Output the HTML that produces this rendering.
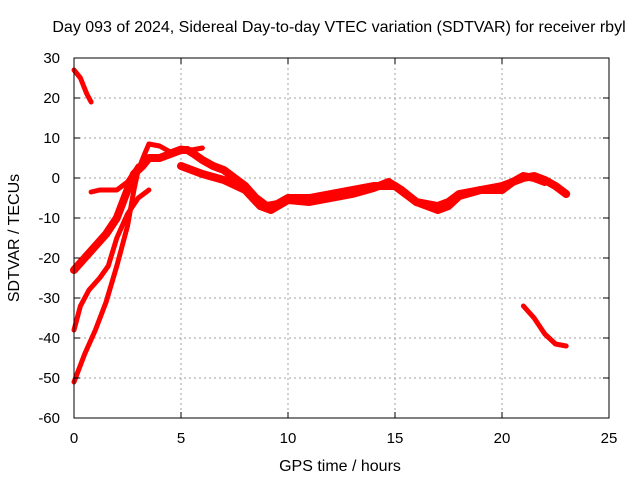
<!DOCTYPE html>
<html><head><meta charset="utf-8"><style>
body{margin:0;background:#fff;}
svg{display:block;font-family:"Liberation Sans",sans-serif;}
</style></head><body>
<svg id="chart" width="640" height="480" viewBox="0 0 640 480">
<text x="339" y="32" font-size="16" text-anchor="middle">Day 093 of 2024, Sidereal Day-to-day VTEC variation (SDTVAR) for receiver rbyl</text>
<text x="340" y="471" font-size="16" text-anchor="middle">GPS time / hours</text>
<text transform="translate(19,238) rotate(-90)" font-size="16" text-anchor="middle">SDTVAR / TECUs</text>
<g id="grid"></g><g id="series"></g>
<rect x="74" y="58" width="535" height="360" fill="none" stroke="#000" stroke-width="1"/>
<g id="ticks"></g>
</svg>
<script>
const xTicks=[0,5,10,15,20,25];
const yTicks=[30,20,10,0,-10,-20,-30,-40,-50,-60];
const seriesA=[[0,27],[0.3,25],[0.6,21],[0.8,19]];
const seriesB=[[0,-51],[0.5,-44],[1,-38],[1.5,-31],[2,-22],[2.5,-12],[2.8,-3],[3.0,2],[3.3,6],[3.5,8.5],[4,8],[4.5,6.5],[5,7.5],[5.5,7],[6,7.5]];
const seriesC=[[0,-38],[0.3,-32],[0.7,-28],[1.2,-25],[1.6,-22],[2.0,-15],[2.5,-9],[3,-5],[3.5,-3]];
const seriesD=[[0,-23],[0.5,-20],[1,-17],[1.5,-14],[2,-10],[2.5,-3],[2.8,1],[3.2,3],[3.5,5],[4,5],[4.5,6],[5,7],[5.3,7],[5.6,6],[6,4.5],[6.5,3],[7,2],[7.5,0],[8,-2],[8.5,-5],[9,-7],[9.5,-6.5],[10,-5],[11,-5],[12,-4],[13,-3],[14,-2],[15,-2],[15.5,-4],[16,-6],[17,-7],[17.5,-6],[18,-4],[19,-3],[20,-2],[21,0],[21.5,0.5],[22,-0.5],[22.5,-2],[23,-4]];
const seriesE=[[5,3],[6,1],[7,-0.5],[8,-3],[8.7,-7],[9.2,-8],[10,-5.5],[11,-6],[12,-5],[13,-4],[14,-2.5],[14.7,-1],[15.3,-3],[16,-6],[17,-8],[17.5,-7],[18,-4.5],[19,-3],[20,-3],[20.5,-1],[21,0.5],[21.5,0],[22,-1]];
const seriesF=[[0.8,-3.5],[1.2,-3],[2,-3],[2.5,-1],[3,3]];
const seriesG=[[21,-32],[21.5,-35],[22,-39],[22.5,-41.5],[23,-42]];
const X=h=>74+h*535/25, Y=v=>58+(30-v)*4;
const NS="http://www.w3.org/2000/svg";
const grid=document.getElementById('grid'),ticks=document.getElementById('ticks'),ser=document.getElementById('series');
function mk(tag,attrs,parent){const e=document.createElementNS(NS,tag);for(const k in attrs)e.setAttribute(k,attrs[k]);parent.appendChild(e);return e;}
xTicks.forEach(t=>{
 if(t>0&&t<25){const g=mk('line',{x1:X(t),x2:X(t),y1:58,y2:418,stroke:'#a0a0a0','stroke-dasharray':'2,3'},grid);
 
 }
 mk('line',{x1:X(t),x2:X(t),y1:418,y2:412,stroke:'#000'},ticks);
 mk('line',{x1:X(t),x2:X(t),y1:58,y2:64,stroke:'#000'},ticks);
 const l=mk('text',{x:X(t),y:443,'font-size':15,'text-anchor':'middle'},ticks);l.textContent=t;
 
 
});
yTicks.forEach(t=>{
 if(t<30&&t>-60){const g=mk('line',{x1:74,x2:609,y1:Y(t),y2:Y(t),stroke:'#a0a0a0','stroke-dasharray':'2,3'},grid);
 
 }
 mk('line',{x1:74,x2:80,y1:Y(t),y2:Y(t),stroke:'#000'},ticks);
 mk('line',{x1:603,x2:609,y1:Y(t),y2:Y(t),stroke:'#000'},ticks);
 const l=mk('text',{x:60,y:Y(t)+5,'font-size':15,'text-anchor':'end'},ticks);l.textContent=t;
 
 
});
[[seriesA,5],[seriesB,5],[seriesC,5],[seriesD,8],[seriesE,8],[seriesF,5],[seriesG,5]].forEach(([s,w],i)=>{
 const p=mk('polyline',{points:s.map(d=>X(d[0])+','+Y(d[1])).join(' '),fill:'none',stroke:'#ff0000','stroke-width':w,'stroke-linejoin':'round','stroke-linecap':'round'},ser);
 
 
});
</script>
</body></html>
